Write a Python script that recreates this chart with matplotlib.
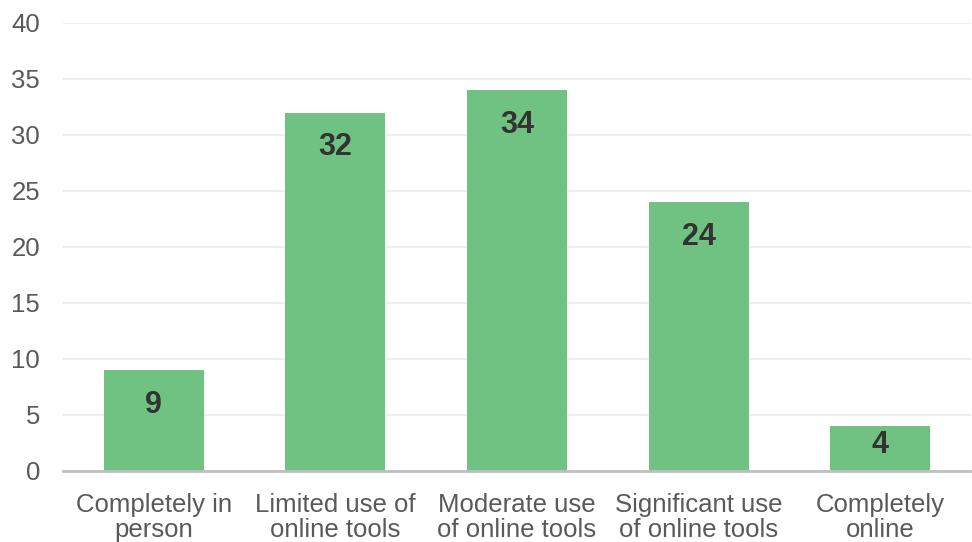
import matplotlib
matplotlib.use("Agg")
import matplotlib.pyplot as plt

categories = ["Completely in\nperson", "Limited use of\nonline tools", "Moderate use\nof online tools",
              "Significant use\nof online tools", "Completely\nonline"]
values = [9, 32, 34, 24, 4]
yticks = [0, 5, 10, 15, 20, 25, 30, 35, 40]

plt.rcParams['font.family'] = ['Liberation Sans', 'DejaVu Sans']

fig = plt.figure(figsize=(9.72, 5.42), dpi=100)
ax = fig.add_axes([63/972, 1-471/542, (971-63)/972, (471-23)/542])

x = list(range(len(values)))
ax.bar(x, values, width=0.55, color="#70C282", zorder=2)
ax.set_xlim(-0.5, len(values) - 0.5)
ax.set_ylim(0, 40)
ax.set_yticks(yticks)
ax.set_xticks(x)
ax.set_xticklabels(categories, fontsize=18.5, color="#595959", linespacing=1.05)
ax.tick_params(axis='y', labelsize=18.5, labelcolor="#595959", length=0, pad=16.5)
ax.tick_params(axis='x', length=0, pad=16)
ax.grid(axis='y', color="#ebebeb", linewidth=1.2, zorder=0)
for s in ['top', 'right', 'left']:
    ax.spines[s].set_visible(False)
ax.spines['bottom'].set_color("#bfbfbf")
ax.spines['bottom'].set_linewidth(2)
ax.spines['bottom'].set_zorder(3)

for xi, v in zip(x, values):
    ypos = max(v - 3.1, v / 2 + 0.3)
    ax.text(xi, ypos, str(v), ha='center', va='center', fontsize=22,
            fontweight='bold', color="#333333", zorder=4)

fig.savefig("out.png", dpi=100, facecolor="white")
